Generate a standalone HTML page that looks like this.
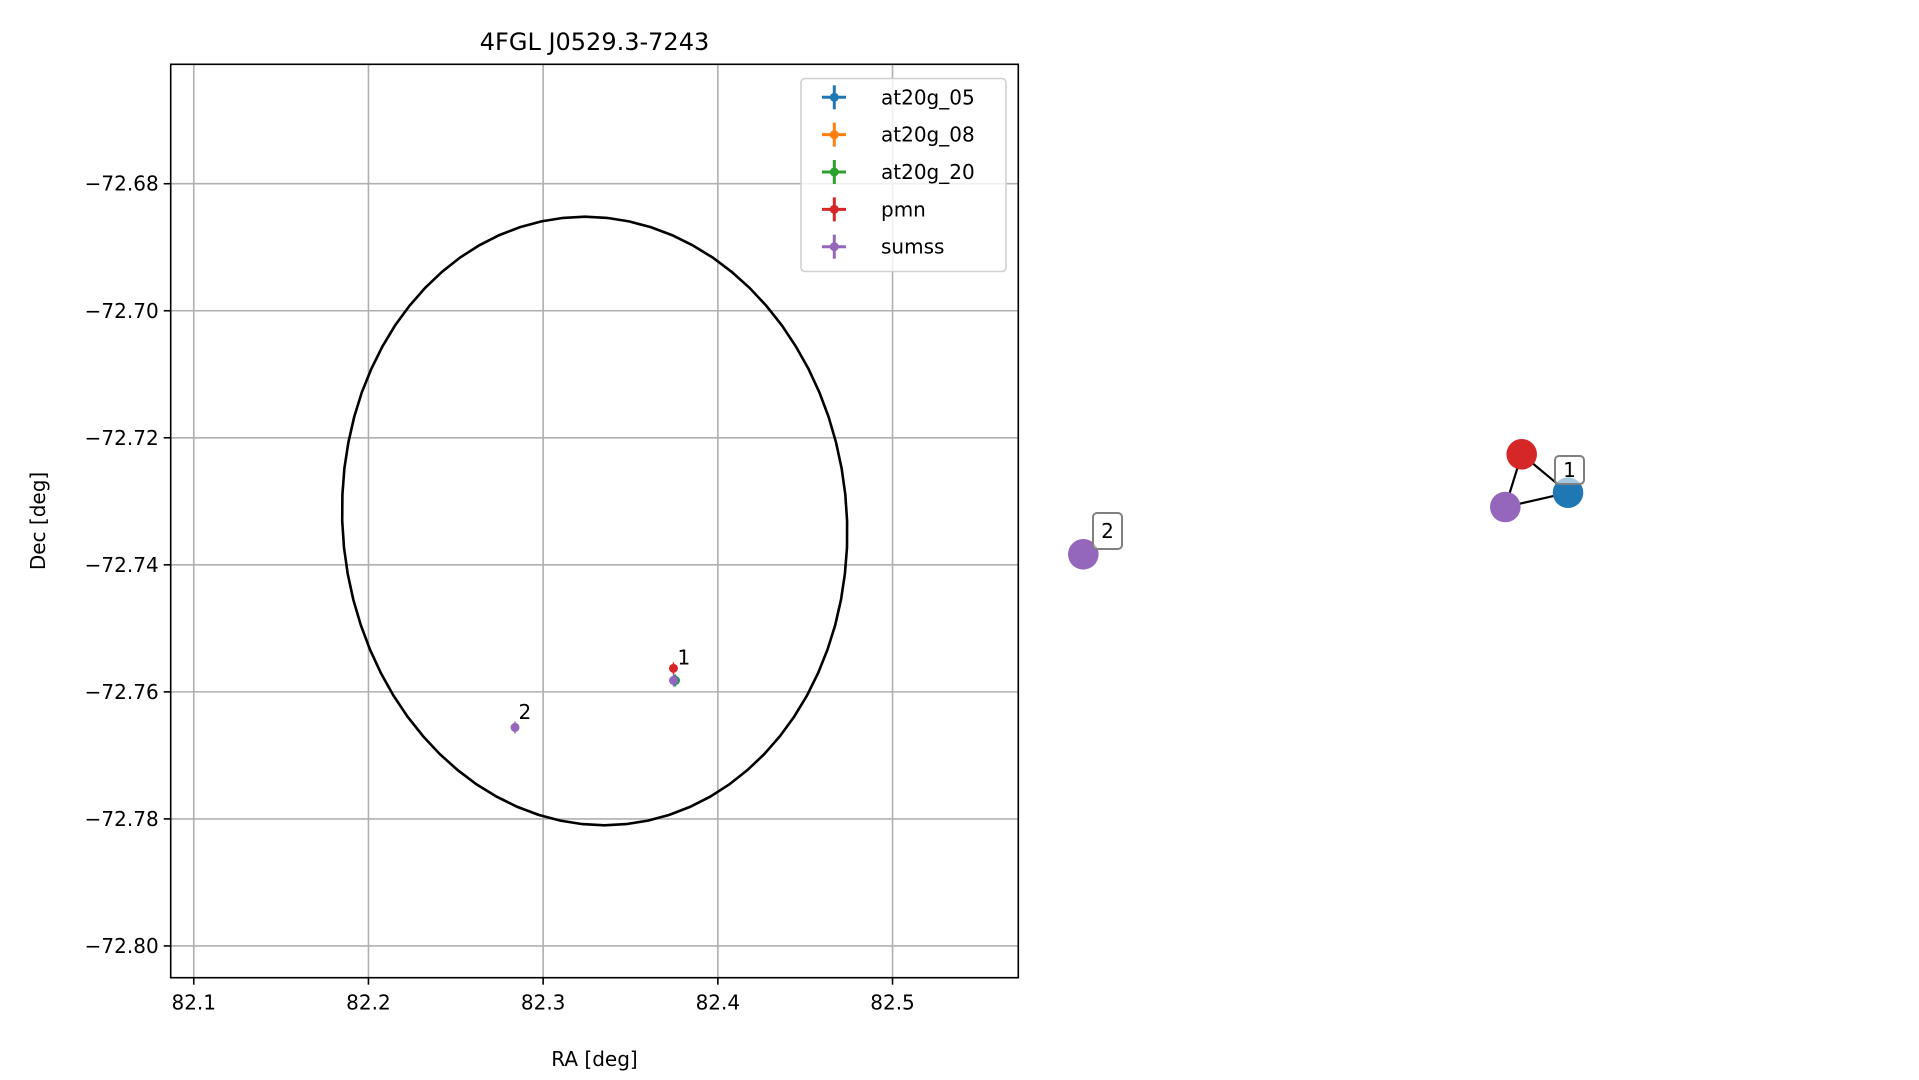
<!DOCTYPE html>
<html><head><meta charset="utf-8"><style>
html,body{margin:0;padding:0;background:#fff;}
svg{display:block;font-family:"DejaVu Sans","Liberation Sans",sans-serif;}
</style></head><body>
<svg id="fig" width="1919" height="1080" viewBox="0 0 1919 1080">
<g id="plot"></g>
</svg>
<script>
const xTicks=[82.1,82.2,82.3,82.4,82.5];
const yTicks=[-72.68,-72.70,-72.72,-72.74,-72.76,-72.78,-72.80];
const catalogs=["at20g_05","at20g_08","at20g_20","pmn","sumss"];
const colors=["#1f77b4","#ff7f0e","#2ca02c","#d62728","#9467bd"];
const srcCat=["sumss","at20g_20","at20g_05","pmn","sumss"];
const srcRA=[82.2839,82.3758,82.3750,82.3746,82.3746];
const srcDec=[-72.7656,-72.7582,-72.7582,-72.7563,-72.7582];
const labelIds=["1","2"];
const labelRA=[82.3752,82.2842];
const labelDec=[-72.7557,-72.7643];
const ellCenter=[82.3295,-72.7331];
const ellRadii=[0.1445,0.0479,-0.0055];

const NS="http://www.w3.org/2000/svg";
const g=document.getElementById('plot');
const L=170.7,R=1018.3,T=64.3,B=977.7;
const xmin=82.0868,xmax=82.5720,ymin=-72.8050,ymax=-72.6612;
const X=v=>L+(v-xmin)/(xmax-xmin)*(R-L);
const Y=v=>B-(v-ymin)/(ymax-ymin)*(B-T);
function mk(tag,attrs,parent){const e=document.createElementNS(NS,tag);for(const k in attrs)e.setAttribute(k,attrs[k]);(parent||g).appendChild(e);return e;}

const title=mk('text',{x:(L+R)/2,y:50,'text-anchor':'middle','font-size':24});
title.textContent="4FGL J0529.3-7243";



xTicks.forEach(v=>{
  const gl=mk('line',{x1:X(v),x2:X(v),y1:T,y2:B,stroke:'#b0b0b0','stroke-width':1.6});
  
  
  mk('line',{x1:X(v),x2:X(v),y1:B,y2:B+7,stroke:'#000','stroke-width':1.6});
  const t=mk('text',{x:X(v),y:B+32,'text-anchor':'middle','font-size':20});
  t.textContent=v.toFixed(1);
  
  
});
yTicks.forEach(v=>{
  const gl=mk('line',{x1:L,x2:R,y1:Y(v),y2:Y(v),stroke:'#b0b0b0','stroke-width':1.6});
  
  
  mk('line',{x1:L-7,x2:L,y1:Y(v),y2:Y(v),stroke:'#000','stroke-width':1.6});
  const t=mk('text',{x:L-12,y:Y(v)+7,'text-anchor':'end','font-size':20});
  t.textContent="\u2212"+Math.abs(v).toFixed(2);
  
  
});

// ellipse
let pts=[];
for(let i=0;i<=72;i++){const t=i/72*2*Math.PI;
  const ra=ellCenter[0]+ellRadii[0]*Math.cos(t)+ellRadii[2]*Math.sin(t);
  const de=ellCenter[1]+ellRadii[1]*Math.sin(t);
  pts.push(X(ra).toFixed(1)+','+Y(de).toFixed(1));}
const ell=mk('polyline',{points:pts.join(' '),fill:'none',stroke:'#000','stroke-width':2.6});



srcRA.forEach((ra,i)=>{
  const c=colors[catalogs.indexOf(srcCat[i])];
  const p=mk('circle',{cx:X(ra),cy:Y(srcDec[i]),r:4.5,fill:c});
  
  
  mk('line',{x1:X(ra),x2:X(ra),y1:Y(srcDec[i])-6,y2:Y(srcDec[i])+6,stroke:c,'stroke-width':1.5});
});
labelIds.forEach((s,i)=>{
  const t=mk('text',{x:X(labelRA[i])+3,y:Y(labelDec[i]),'font-size':20});
  t.textContent=s;
  
  
});

const frame=mk('rect',{x:L,y:T,width:R-L,height:B-T,fill:'none',stroke:'#000','stroke-width':1.6});



// legend
const lg=mk('g',{});


mk('rect',{x:801,y:78.5,width:205,height:193,rx:4,fill:'#fff','fill-opacity':0.8,stroke:'#d0d0d0','stroke-width':1.6},lg);
catalogs.forEach((c,i)=>{
  const y=97.3+i*37.35;
  const e=mk('g',{},lg);
  
  
  mk('line',{x1:822,x2:846,y1:y,y2:y,stroke:colors[i],'stroke-width':3},e);
  mk('line',{x1:834.3,x2:834.3,y1:y-12,y2:y+12,stroke:colors[i],'stroke-width':3},e);
  mk('circle',{cx:834.3,cy:y,r:4.5,fill:colors[i]},e);
  const t=mk('text',{x:881,y:y+7,'font-size':20},e);t.textContent=c;
});

const xl=mk('text',{x:(L+R)/2,y:1066,'text-anchor':'middle','font-size':20});
xl.textContent="RA [deg]";


const yl=mk('text',{x:0,y:0,'text-anchor':'middle','font-size':20,transform:'translate(45,'+((T+B)/2)+') rotate(-90)'});
yl.textContent="Dec [deg]";



// network graph
const netX=[1083.3,1521.7,1568,1505.3];
const netY=[554.3,454.3,492.7,507];
const netCat=["sumss","pmn","at20g_05","sumss"];
const edges=[[1,2],[1,3],[3,2]];
edges.forEach(e=>{
  const l=mk('line',{x1:netX[e[0]],y1:netY[e[0]],x2:netX[e[1]],y2:netY[e[1]],stroke:'#000','stroke-width':2.2});
  
  
});
netX.forEach((x,i)=>{
  const c=mk('circle',{cx:x,cy:netY[i],r:15.3,fill:colors[catalogs.indexOf(netCat[i])]});
  
  
});
const boxes=[[1093,513,29,36,"2"],[1555,456,29,28,"1"]];
boxes.forEach(b=>{
  const bg=mk('g',{});
  
  
  mk('rect',{x:b[0],y:b[1],width:b[2],height:b[3],rx:4,fill:'#fff','fill-opacity':0.6,stroke:'#808080','stroke-width':2},bg);
  const t=mk('text',{x:b[0]+b[2]/2,y:b[1]+b[3]/2+7,'text-anchor':'middle','font-size':20},bg);
  t.textContent=b[4];
});
</script>
</body></html>
